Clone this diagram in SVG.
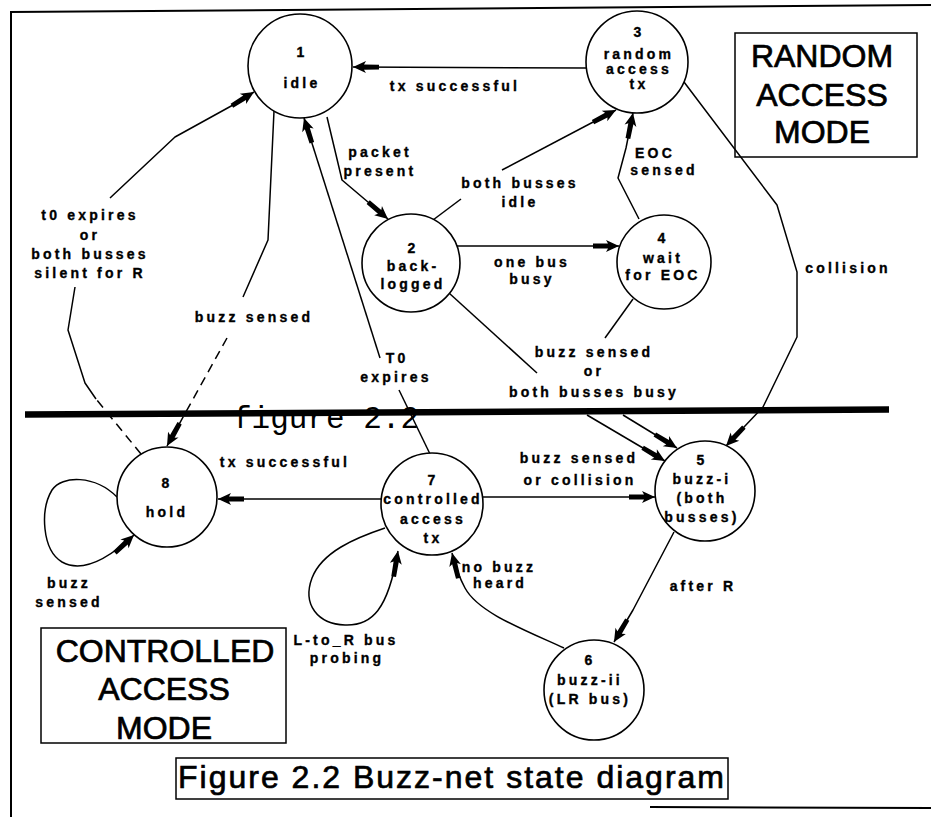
<svg xmlns="http://www.w3.org/2000/svg" width="931" height="817" viewBox="0 0 931 817">
  <style>
    .node { fill: #fff; stroke: #000; stroke-width: 1.6; }
    .edge { fill: none; stroke: #000; stroke-width: 1.5; stroke-linejoin: round; }
    .dash { stroke-dasharray: 9 6; }
    .lb { font-family: "Liberation Sans", Arial, sans-serif; font-weight: bold; font-size: 14px; letter-spacing: 3.2px; text-anchor: middle; fill: #000; stroke: #000; stroke-width: 0.35; }
    .mode { font-family: "Liberation Sans", Arial, sans-serif; font-size: 32px; text-anchor: middle; fill: #000; stroke: #000; stroke-width: 0.7; }
    .box { fill: none; stroke: #000; stroke-width: 1.5; }
    .frame { fill: none; stroke: #000; stroke-width: 2; }
  </style>
  <defs>
    <marker id="arr" markerUnits="userSpaceOnUse" viewBox="-28 -8 30 16" refX="0" refY="0" markerWidth="30" markerHeight="16" orient="auto">
      <path d="M0,0 L-13,-6 L-11,-2.6 L-26,-2.4 L-26,2.4 L-11,2.6 L-13,6 Z" fill="#000"/>
    </marker>
  </defs>

  <rect width="931" height="817" fill="#fff"/>

  <!-- page frame -->
  <g id="frame">
    <path class="frame" d="M10,12 L931,5"/>
    <path class="frame" d="M11,12 L11,817"/>
    <path class="frame" d="M650,807 L931,808" stroke-width="2.5"/>
  </g>

  <!-- stray heading under the mode divider -->
  <text x="233" y="428" font-family="'Liberation Mono', 'Courier New', monospace" font-size="31" fill="#000">figure 2.2</text>

  <!-- divider between random and controlled access modes -->
  <path d="M25,414.5 L889,409.5" stroke="#000" stroke-width="6.5" fill="none"/>

  <!-- transitions -->
  <g id="connectors">
    <!-- 3 -> 1 tx successful -->
    <path class="edge" d="M586,68 L353,67" marker-end="url(#arr)"/>
    <!-- 1 -> 2 packet present -->
    <path class="edge" d="M327,117 L342,180 L388,219" marker-end="url(#arr)"/>
    <!-- 2 -> 3 both busses idle -->
    <path class="edge" d="M433,220 L461,199"/>
    <path class="edge" d="M502,170 L616,110" marker-end="url(#arr)"/>
    <!-- 2 -> 4 one bus busy -->
    <path class="edge" d="M457,246 L619,246" marker-end="url(#arr)"/>
    <!-- 4 -> 3 EOC sensed -->
    <path class="edge" d="M639,219 L618,178 L626,148 L633,113" marker-end="url(#arr)"/>
    <!-- 3 -> 5 collision -->
    <path class="edge" d="M684,82 L777,205 L797,272 L797,337 L763,407 L726,446" marker-end="url(#arr)"/>
    <!-- 2 -> 5 buzz sensed or both busses busy -->
    <path class="edge" d="M449,293 L537,373"/>
    <path class="edge" d="M587,415 L665,461" marker-end="url(#arr)"/>
    <!-- 4 -> 5 buzz sensed or both busses busy -->
    <path class="edge" d="M633,299 L605,338"/>
    <path class="edge" d="M623,415 L677,448" marker-end="url(#arr)"/>
    <!-- 7 -> 1 T0 expires -->
    <path class="edge" d="M430,454 L399,390"/>
    <path class="edge" d="M380,358 L304,118" marker-end="url(#arr)"/>
    <!-- 8 -> 1 t0 expires or both busses silent for R -->
    <path class="edge dash" d="M141,454 L96,399"/>
    <path class="edge" d="M96,399 L85,383 L68,330 L75,287"/>
    <path class="edge" d="M110,198 L175,137 L233,105 L254,92" marker-end="url(#arr)"/>
    <!-- 1 -> 8 buzz sensed -->
    <path class="edge" d="M274,111 L268,240 L243,297"/>
    <path class="edge dash" d="M227,338 L167,446" marker-end="url(#arr)"/>
    <!-- 8 -> 8 buzz sensed -->
    <path class="edge" d="M117,497 C95,475 62,475 52,490 C40,510 42,550 62,562 C80,572 105,562 134,535" marker-end="url(#arr)"/>
    <!-- 7 -> 7 L-to_R bus probing -->
    <path class="edge" d="M385,528 C355,538 322,552 312,578 C302,605 318,624 345,625 C372,626 388,610 398,551" marker-end="url(#arr)"/>
    <!-- 6 -> 7 no buzz heard -->
    <path class="edge" d="M564,648 C520,628 478,612 465,588 C458,575 455,565 452,553" marker-end="url(#arr)"/>
    <!-- 5 -> 6 after R -->
    <path class="edge" d="M674,532 L633,610 L614,642" marker-end="url(#arr)"/>
    <!-- 7 -> 5 buzz sensed or collision -->
    <path class="edge" d="M482,497 L655,497" marker-end="url(#arr)"/>
    <!-- 7 -> 8 tx successful -->
    <path class="edge" d="M381,499 L218,499" marker-end="url(#arr)"/>
  </g>

  <g id="edge-labels">
    <text class="lb" x="455" y="91">tx successful</text>
    <text class="lb" x="380" y="157">packet</text>
    <text class="lb" x="380" y="176">present</text>
    <text class="lb" x="520" y="188">both busses</text>
    <text class="lb" x="520" y="207">idle</text>
    <text class="lb" x="532" y="267">one bus</text>
    <text class="lb" x="532" y="284">busy</text>
    <text class="lb" x="655" y="158">EOC</text>
    <text class="lb" x="664" y="175">sensed</text>
    <text class="lb" x="848" y="273">collision</text>
    <text class="lb" x="594" y="357">buzz sensed</text>
    <text class="lb" x="594" y="376">or</text>
    <text class="lb" x="594" y="397">both busses busy</text>
    <text class="lb" x="397" y="363">T0</text>
    <text class="lb" x="396" y="382">expires</text>
    <text class="lb" x="90" y="220">t0 expires</text>
    <text class="lb" x="90" y="240">or</text>
    <text class="lb" x="90" y="259">both busses</text>
    <text class="lb" x="90" y="278">silent for R</text>
    <text class="lb" x="254" y="322">buzz sensed</text>
    <text class="lb" x="285" y="467">tx successful</text>
    <text class="lb" x="579" y="463">buzz sensed</text>
    <text class="lb" x="580" y="485">or collision</text>
    <text class="lb" x="69" y="588">buzz</text>
    <text class="lb" x="69" y="607">sensed</text>
    <text class="lb" x="346" y="645">L-to_R bus</text>
    <text class="lb" x="347" y="663">probing</text>
    <text class="lb" x="499" y="572">no buzz</text>
    <text class="lb" x="500" y="588">heard</text>
    <text class="lb" x="703" y="591">after R</text>
  </g>

  <!-- states -->
  <g id="node-1">
    <circle class="node" cx="300" cy="66" r="52"/>
    <text class="lb" x="302" y="57">1</text>
    <text class="lb" x="302" y="88">idle</text>
  </g>
  <g id="node-2">
    <circle class="node" cx="411" cy="263" r="49"/>
    <text class="lb" x="413" y="253">2</text>
    <text class="lb" x="413" y="271">back-</text>
    <text class="lb" x="413" y="289">logged</text>
  </g>
  <g id="node-3">
    <circle class="node" cx="637" cy="62" r="51"/>
    <text class="lb" x="639" y="37">3</text>
    <text class="lb" x="639" y="59">random</text>
    <text class="lb" x="639" y="74">access</text>
    <text class="lb" x="639" y="89">tx</text>
  </g>
  <g id="node-4">
    <circle class="node" cx="664" cy="262" r="47"/>
    <text class="lb" x="663" y="243">4</text>
    <text class="lb" x="663" y="263">wait</text>
    <text class="lb" x="663" y="280">for EOC</text>
  </g>
  <g id="node-5">
    <circle class="node" cx="705" cy="491" r="50"/>
    <text class="lb" x="702" y="465">5</text>
    <text class="lb" x="702" y="484">buzz-i</text>
    <text class="lb" x="702" y="503">(both</text>
    <text class="lb" x="702" y="522">busses)</text>
  </g>
  <g id="node-6">
    <circle class="node" cx="594" cy="690" r="50"/>
    <text class="lb" x="590" y="665">6</text>
    <text class="lb" x="590" y="685">buzz-ii</text>
    <text class="lb" x="590" y="704">(LR bus)</text>
  </g>
  <g id="node-7">
    <circle class="node" cx="432" cy="504" r="51"/>
    <text class="lb" x="433" y="485">7</text>
    <text class="lb" x="433" y="504">controlled</text>
    <text class="lb" x="433" y="524">access</text>
    <text class="lb" x="433" y="543">tx</text>
  </g>
  <g id="node-8">
    <circle class="node" cx="167" cy="497" r="50"/>
    <text class="lb" x="167" y="488">8</text>
    <text class="lb" x="167" y="517">hold</text>
  </g>

  <!-- mode captions -->
  <g id="random-mode">
    <rect class="box" x="735" y="33" width="182" height="124"/>
    <text class="mode" x="822" y="67">RANDOM</text>
    <text class="mode" x="822" y="106">ACCESS</text>
    <text class="mode" x="822" y="143">MODE</text>
  </g>
  <g id="controlled-mode">
    <rect class="box" x="41" y="628" width="245" height="115"/>
    <text class="mode" x="165" y="662" font-size="33">CONTROLLED</text>
    <text class="mode" x="164" y="700">ACCESS</text>
    <text class="mode" x="164" y="739">MODE</text>
  </g>
  <g id="caption">
    <rect class="box" x="176" y="758" width="552" height="41"/>
    <text x="178" y="788" font-family="'Liberation Sans', Arial, sans-serif" font-size="32" textLength="546" lengthAdjust="spacing" fill="#000" stroke="#000" stroke-width="0.7">Figure 2.2 Buzz-net state diagram</text>
  </g>
</svg>
